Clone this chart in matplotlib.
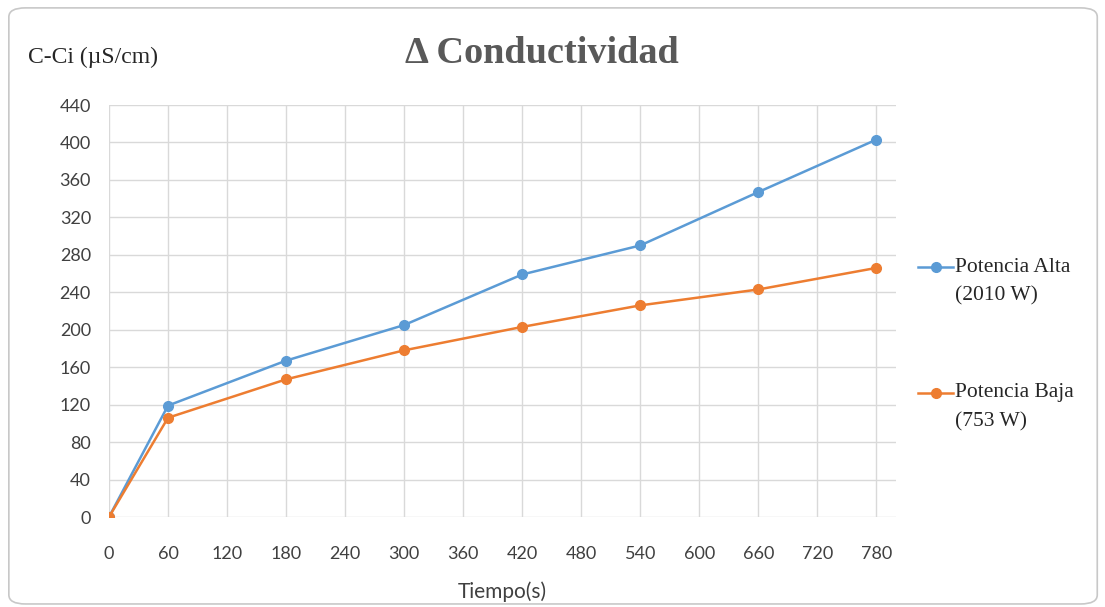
import matplotlib
matplotlib.use("Agg")
import matplotlib.pyplot as plt
from matplotlib.patches import FancyBboxPatch
from matplotlib.lines import Line2D

tiempo = [0, 60, 180, 300, 420, 540, 660, 780]
alta = [0, 119, 167, 205, 259, 290, 347, 403]
baja = [0, 106, 147, 178, 203, 226, 243, 266]
xticks = list(range(0, 781, 60))
yticks = list(range(0, 441, 40))
series_labels = [("Potencia Alta", "(2010 W)"), ("Potencia Baja", "(753 W)")]
colors = ["#5B9BD5", "#ED7D31"]

W, H = 1105, 607
fig = plt.figure(figsize=(W / 100, H / 100), dpi=100)
fig.patch.set_facecolor("white")
border = FancyBboxPatch((0.008, 0.005), 0.985, 0.982, boxstyle="round,pad=0,rounding_size=0.015",
                        transform=fig.transFigure, fill=False, edgecolor="#C8C8C8", linewidth=1.2)
fig.patches.append(border)

ax = fig.add_axes([109 / W, 1 - 517 / H, (896 - 109) / W, (517 - 105) / H])
for vals, c in zip([alta, baja], colors):
    ax.plot(tiempo, vals, color=c, lw=1.8, marker="o", ms=7, zorder=3)
ax.set_xlim(0, 800)
ax.set_ylim(0, 440)
ax.set_xticks(xticks)
ax.set_yticks(yticks)
ax.grid(True, color="#D9D9D9", lw=1)
ax.set_axisbelow(True)
for s in ax.spines.values():
    s.set_visible(False)
ax.tick_params(length=0, labelsize=13, labelcolor="#404040")
ax.tick_params(axis="y", pad=13)
ax.tick_params(axis="x", pad=21)
for lab in ax.get_xticklabels() + ax.get_yticklabels():
    lab.set_fontfamily("Lato")
ax.set_xlabel("Tiempo(s)", fontfamily="Lato", fontsize=15, color="#404040", labelpad=14)

fig.text(28 / W, 1 - 63 / H, "C-Ci (µS/cm)", fontfamily="Liberation Serif", fontsize=17,
         color="#262626", va="baseline")
fig.text(542 / W, 1 - 63 / H, "Δ Conductividad", fontfamily="Liberation Serif", fontsize=27.5,
         fontweight="bold", color="#595959", ha="center", va="baseline")

# legend
entries_y = [267, 393]
for (l1, l2), c, yy in zip(series_labels, colors, entries_y):
    fy = 1 - yy / H
    fig.add_artist(Line2D([918 / W, 953 / W], [fy, fy], color=c, lw=1.8, transform=fig.transFigure))
    fig.add_artist(Line2D([935.5 / W], [fy], color=c, marker="o", ms=7, transform=fig.transFigure))
    fig.text(955 / W, fy, l1, fontfamily="Liberation Serif", fontsize=15.5, color="#262626", va="center")
    fig.text(955 / W, 1 - (yy + 29) / H, l2, fontfamily="Liberation Serif", fontsize=15.5,
             color="#262626", va="center")

fig.savefig("out.png", dpi=100)
